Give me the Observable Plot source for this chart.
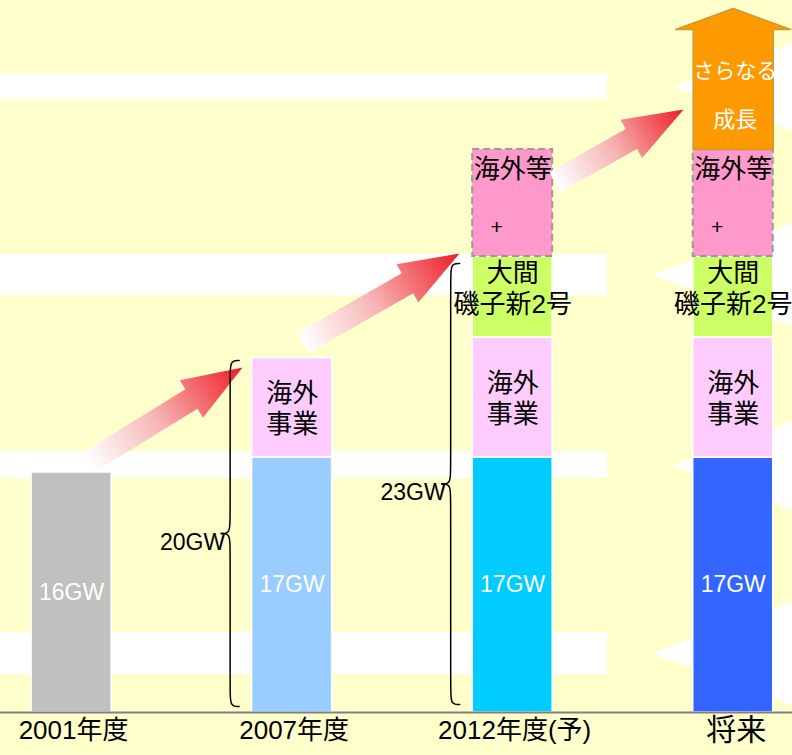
<!DOCTYPE html>
<html><head><meta charset="utf-8">
<script src="https://cdn.jsdelivr.net/npm/d3@7"></script>
<script src="https://cdn.jsdelivr.net/npm/@observablehq/plot@0.6"></script>
<style>
html,body{margin:0;padding:0;background:#FFFFCC;}
#chart svg{display:block;}
</style></head><body><div id="chart"></div>
<script>
// ---------------- data (GW-like units) ----------------
const categories = ["2001年度", "2007年度", "2012年度(予)", "将来"];
const baseGW = [16, 17, 17, 17];
const baseLabels = ["16GW", "17GW", "17GW", "17GW"];
const baseColors = ["#C0C0C0", "#99CCFF", "#00CCFF", "#3366FF"];
const overseasGW = [0, 6.63, 8.0, 8.0];      // 海外事業
const ohmaIsogoGW = [0, 0, 5.4, 5.4];        // 大間 磯子新2号
const overseasEtcGW = [0, 0, 7.13, 7.13];    // 海外等 +
const growthGW = [0, 0, 0, 8.0];             // さらなる成長
const segmentLabels = {overseas: "海外\n事業", ohma: "大間\n磯子新2号", etc: "海外等", growthTop: "さらなる", growthBottom: "成長"};
const braceBars = [1, 2];
const braceLabels = ["20GW", "23GW"];
const braceFrom = [0.4, 0.53];
const braceTo = [23.47, 29.93];
// background decoration
const bandLow = [2.53, 15.6, 27.77, 40.87];
const bandHigh = [5.33, 17.4, 30.53, 42.6];
const bandEnd = 2.43;
const chevronTipX = [2.729, 2.634, 2.724, 2.634];
const chevronMidY = [41.73, 29.17, 16.47, 3.93];
// red growth arrows between bars: tail (x, y) -> tip (x, y)
const arrowTailX = [0.077, 1.0496, 2.192];
const arrowTailY = [16.67, 24.63, 35.37];
const arrowTipX = [0.775, 1.759, 2.775];
const arrowTipY = [23.0, 30.6, 40.2];

// ---------------- scale setup ----------------
const W = 792, H = 755, baseY = 712;
const kx = 220.55, ky = 15;                 // px per unit
const xDomain = [-71.08 / kx, (W - 71.08) / kx];
const yDomain = [0, baseY / ky];
const hw = 40 / kx;                          // half bar width
const font = "'Liberation Sans', Arial, 'Noto Sans CJK JP', sans-serif";

// stacked segments
const segments = [];
let growth = null;
categories.forEach((c, i) => {
  let y = 0;
  const layers = [
    {key: "base", v: baseGW[i], fill: baseColors[i]},
    {key: "overseas", v: overseasGW[i], fill: "#FFCCFF"},
    {key: "ohma", v: ohmaIsogoGW[i], fill: "#CCFF66"},
    {key: "etc", v: overseasEtcGW[i], fill: "#FF99CC"}
  ];
  for (const l of layers) {
    if (l.v > 0) segments.push({i, key: l.key, y1: y, y2: y + l.v, fill: l.fill});
    y += l.v;
  }
  if (growthGW[i] > 0) growth = {i, y1: y, y2: y + growthGW[i]};
});

// background bands and chevrons
const bands = bandLow.map((lo, k) => ({lo, hi: bandHigh[k]}));
const slope = 0.37 * kx / ky;
const chevronPts = [];
chevronTipX.forEach((tx, k) => {
  const c = chevronMidY[k], hh = slope * (xDomain[1] - tx);
  chevronPts.push({k, x: tx, y: c}, {k, x: xDomain[1], y: c + hh}, {k, x: xDomain[1], y: c - hh});
});

// red block arrows (computed in pixel-proportional space)
function blockArrow(t0x, t0y, t1x, t1y, shaftHalf, headHalf, headLen) {
  const A = [t0x * kx, -t0y * ky], B = [t1x * kx, -t1y * ky];
  const dx = B[0] - A[0], dy = B[1] - A[1], L = Math.hypot(dx, dy);
  const u = [dx / L, dy / L], n = [-u[1], u[0]];
  const Hc = [B[0] - u[0] * headLen, B[1] - u[1] * headLen];
  const p = (P, s) => [P[0] + n[0] * s, P[1] + n[1] * s];
  const pts = [p(A, shaftHalf), p(Hc, shaftHalf), p(Hc, headHalf), B, p(Hc, -headHalf), p(Hc, -shaftHalf), p(A, -shaftHalf)];
  return pts.map(q => ({x: q[0] / kx, y: -q[1] / ky}));
}
const redArrows = arrowTailX.map((tx, k) => blockArrow(tx, arrowTailY[k], arrowTipX[k], arrowTipY[k], 11.5, 22, 60));

// orange growth arrow
const gi = growth.i, headHalf = 57.5 / kx, headH = 21 / ky;
const growthPts = [
  {x: gi - hw, y: growth.y1}, {x: gi - hw, y: growth.y2}, {x: gi - headHalf, y: growth.y2},
  {x: gi, y: growth.y2 + headH}, {x: gi + headHalf, y: growth.y2}, {x: gi + hw, y: growth.y2},
  {x: gi + hw, y: growth.y1}, {x: gi - hw, y: growth.y1}
];

// braces
const bracePts = [];
braceBars.forEach((b, k) => {
  const S = b - hw - 22 / kx, e = 9 / kx, v = 16 / ky;
  const T = braceTo[k], B = braceFrom[k], M = (T + B) / 2;
  const up = [[S + e, T], [S, T], [S, T - v], [S, M + v], [S, M], [S - e, M]];
  const dn = [[S - e, M], [S, M], [S, M - v], [S, B + v], [S, B], [S + e, B]];
  up.forEach(q => bracePts.push({id: k + "u", x: q[0], y: q[1]}));
  dn.forEach(q => bracePts.push({id: k + "d", x: q[0], y: q[1]}));
});

// labels
const labels = [];
segments.forEach(s => {
  const mid = (s.y1 + s.y2) / 2;
  if (s.key === "base") labels.push({x: s.i, y: mid, text: baseLabels[s.i], fill: "white", size: 23, lh: 1, dy: 0, dx: 0});
  if (s.key === "overseas") labels.push({x: s.i, y: mid, text: segmentLabels.overseas, fill: "black", size: 26, lh: 1.19, dy: 0, dx: 0});
  if (s.key === "ohma") labels.push({x: s.i, y: mid, text: segmentLabels.ohma, fill: "black", size: 26, lh: 1.19, dy: -9, dx: 0});
  if (s.key === "etc") {
    labels.push({x: s.i, y: s.y2, text: segmentLabels.etc, fill: "black", size: 26, lh: 1, dy: 20, dx: 0});
    labels.push({x: s.i, y: mid, text: "+", fill: "black", size: 21, lh: 1, dy: 24, dx: -16});
  }
});
const gh = growth.y2 - growth.y1;
labels.push({x: gi, y: growth.y1 + 0.65 * gh, text: segmentLabels.growthTop, fill: "white", size: 21, lh: 1, dy: 0, dx: 2});
labels.push({x: gi, y: growth.y1 + 0.25 * gh, text: segmentLabels.growthBottom, fill: "white", size: 22, lh: 1, dy: 0, dx: 2});
braceBars.forEach((b, k) => {
  labels.push({x: b - hw - 27 / kx, y: (braceTo[k] + braceFrom[k]) / 2, text: braceLabels[k], fill: "black", size: 23, lh: 1, dy: 9, dx: 0, anchor: "end"});
});

const marks = [
  Plot.rect(bands, {x1: () => xDomain[0], x2: () => bandEnd, y1: "lo", y2: "hi", fill: "white"}),
  Plot.line(chevronPts, {x: "x", y: "y", z: "k", fill: "white", stroke: "none"}),
  Plot.rect(segments.filter(s => s.key !== "etc"), {x1: d => d.i - hw, x2: d => d.i + hw, y1: "y1", y2: "y2", fill: "fill", stroke: "white", strokeWidth: 1.5}),
  Plot.rect(segments.filter(s => s.key === "etc"), {x1: d => d.i - hw, x2: d => d.i + hw, y1: "y1", y2: "y2", fill: "fill", stroke: "#9A9A9A", strokeWidth: 2, strokeDasharray: "7,4"}),
  Plot.ruleY([0], {stroke: "#808080", strokeWidth: 2}),
  ...redArrows.map((pts, k) => Plot.line(pts, {x: "x", y: "y", fill: `url(#redfade${k})`, stroke: "none"})),
  Plot.line(growthPts, {x: "x", y: "y", fill: "#FF9900", stroke: "#CC9933", strokeWidth: 1.5}),
  Plot.line(bracePts, {x: "x", y: "y", z: "id", curve: "basis", stroke: "black", strokeWidth: 1.5}),
  ...labels.map(d => Plot.text([d], {x: "x", y: "y", text: "text", fill: d.fill, fontSize: d.size, lineHeight: d.lh, dy: d.dy, dx: d.dx, textAnchor: d.anchor || "middle", fontFamily: font})),
  Plot.text(categories.slice(0, 3), {x: (d, i) => i, frameAnchor: "bottom", dy: 26, dx: 2, text: d => d, fontSize: 26, fill: "black", fontFamily: font}),
  Plot.text(categories.slice(3), {x: () => 3, frameAnchor: "bottom", dy: 27, dx: 3, text: d => d, fontSize: 30, fill: "black", fontFamily: font})
];

const svg = Plot.plot({
  width: W, height: H,
  marginTop: 0, marginRight: 0, marginLeft: 0, marginBottom: H - baseY,
  x: {domain: xDomain, axis: null},
  y: {domain: yDomain, axis: null},
  color: {type: "identity"},
  style: {background: "#FFFFCC", fontFamily: font, overflow: "hidden"},
  marks
});

// gradients for the red arrows, positioned through the plot's scales
const sxs = svg.scale("x"), sys = svg.scale("y");
const fx = sxs.apply ? v => sxs.apply(v) : d3.scaleLinear(sxs.domain, sxs.range);
const fy = sys.apply ? v => sys.apply(v) : d3.scaleLinear(sys.domain, sys.range);
const defs = d3.select(svg).insert("defs", ":first-child");
arrowTailX.forEach((tx, k) => {
  const g = defs.append("linearGradient").attr("id", `redfade${k}`).attr("gradientUnits", "userSpaceOnUse")
    .attr("x1", fx(tx)).attr("y1", fy(arrowTailY[k])).attr("x2", fx(arrowTipX[k])).attr("y2", fy(arrowTipY[k]));
  g.append("stop").attr("offset", 0).attr("stop-color", "#FFFFFF");
  g.append("stop").attr("offset", 0.45).attr("stop-color", "#F7B5B5");
  g.append("stop").attr("offset", 1).attr("stop-color", "#EE1C24");
});
document.getElementById("chart").appendChild(svg);
</script></body></html>
